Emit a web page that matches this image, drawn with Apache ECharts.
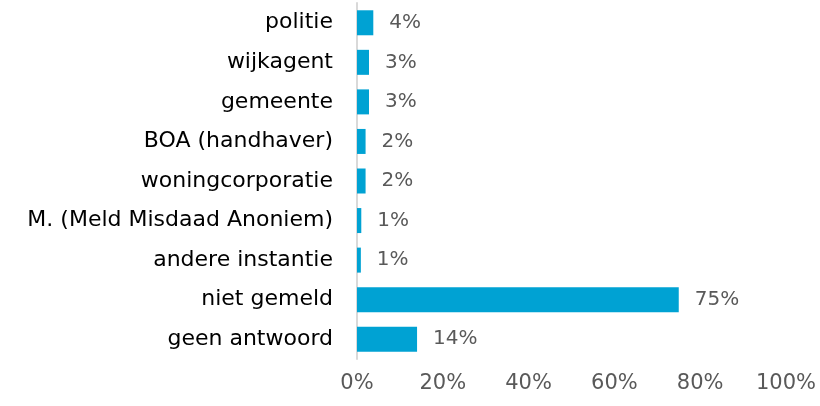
<!DOCTYPE html>
<html><head><meta charset="utf-8">
<script src="https://cdn.jsdelivr.net/npm/echarts@6/dist/echarts.min.js"></script>
<style>html,body{margin:0;padding:0;background:#fff}#c{width:820px;height:406px}</style>
</head><body><div id="c"></div>
<script>
const categories = ['politie','wijkagent','gemeente','BOA (handhaver)','woningcorporatie','M. (Meld Misdaad Anoniem)','andere instantie','niet gemeld','geen antwoord'];
const values = [3.8, 2.8, 2.8, 2.0, 2.0, 1.0, 0.9, 75, 14];
const labels = ['4%','3%','3%','2%','2%','1%','1%','75%','14%'];
const xTicks = [0, 20, 40, 60, 80, 100];
const font = '"DejaVu Sans", sans-serif';
const chart = echarts.init(document.getElementById('c'));
chart.setOption({
  animation: false,
  grid: {left: 357, right: 34, top: 3, bottom: 47, containLabel: false},
  xAxis: {
    type: 'value', min: xTicks[0], max: xTicks[xTicks.length-1], interval: 20,
    axisLine: {show: false}, axisTick: {show: false}, splitLine: {show: false},
    axisLabel: {formatter: v => v + '%', color: '#595959', fontSize: 21, fontFamily: font, margin: 14}
  },
  yAxis: {
    type: 'category', data: categories, inverse: true,
    axisLine: {show: true, lineStyle: {color: '#d9d9d9', width: 2}},
    axisTick: {show: false},
    axisLabel: {color: '#000', fontSize: 22, fontFamily: font, margin: 24}
  },
  series: [{
    type: 'bar', data: values, barWidth: 25,
    itemStyle: {color: '#00A2D3'},
    label: {show: true, position: 'right', distance: 16, color: '#595959', fontSize: 20, fontFamily: font,
      formatter: p => labels[p.dataIndex]}
  }]
});
</script></body></html>
